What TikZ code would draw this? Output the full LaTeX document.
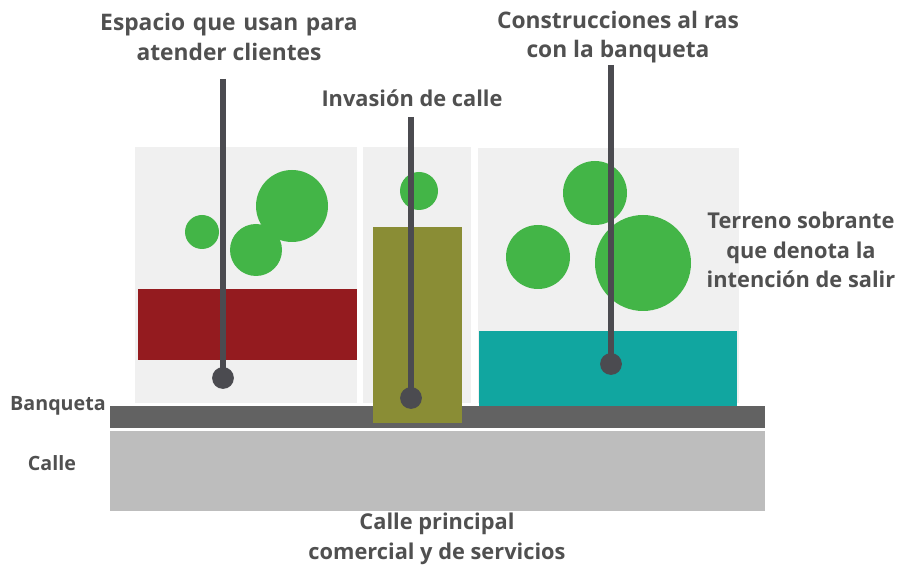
\documentclass[tikz,border=0pt]{standalone}
\usepackage{fontspec}
\setmainfont{Open Sans}
\usepackage{xcolor}
\definecolor{lotgray}{HTML}{F0F0F0}
\definecolor{shopred}{HTML}{941B1F}
\definecolor{stallolive}{HTML}{8A8D35}
\definecolor{builtteal}{HTML}{11A6A0}
\definecolor{treegreen}{HTML}{43B547}
\definecolor{walkgray}{HTML}{626262}
\definecolor{roadgray}{HTML}{BDBDBD}
\definecolor{leadergray}{HTML}{4B4B50}
\definecolor{labelgray}{HTML}{505050}

\begin{document}
\begin{tikzpicture}[x=0.025cm,y=-0.025cm,
    lot/.style={fill=lotgray},
    tree/.style={fill=treegreen},
    leader/.style={draw=leadergray,line width=4.3pt},
    pin/.style={circle,fill=leadergray,inner sep=0pt,minimum size=15.5pt},
    lbl/.style={text=labelgray,font=\bfseries\fontsize{15.5}{21}\selectfont,align=center,inner sep=0pt},
    toplbl/.style={lbl,font=\bfseries\fontsize{16.2}{21}\selectfont},
    sidelbl/.style={text=labelgray,font=\bfseries\fontsize{14}{15}\selectfont,inner sep=0pt}]
                \useasboundingbox (0,0) rectangle (903,570);

                % lots
                \fill[lot] (135,147) rectangle (357,403);
                \fill[lot] (363,147) rectangle (471,403);
                \fill[lot] (478,148) rectangle (739,403);

                % trees
                \fill[tree] (202,232) circle (17);
                \fill[tree] (292,206) circle (36);
                \fill[tree] (256,250) circle (26);
                \fill[tree] (419,191) circle (19);
                \fill[tree] (595,193) circle (32);
                \fill[tree] (538,257) circle (32);
                \fill[tree] (643,263) circle (48);

                % buildings
                \fill[shopred] (138,289) rectangle (357,360);
                \fill[builtteal] (479,331) rectangle (737,407);

                % street and sidewalk
                \fill[roadgray] (110,431) rectangle (765,511);
                \fill[walkgray] (110,406) rectangle (765,428);
                \fill[stallolive] (373,227) rectangle (462,423);

                % labels
                \node[toplbl] (espacio) at (229,37) {Espacio\,\,que\,\,usan\,\,para\\atender clientes};
                \node[toplbl] (construc) at (618,37) {Construcciones al ras\\con la banqueta};
                \node[lbl] (invasion) at (412,98) {Invasión de calle};
                \node[lbl] (terreno) at (801,250) {Terreno sobrante\\que denota la\\intención de salir};
                \node[sidelbl,anchor=east] (banqueta) at (106,406) {Banqueta};
                \node[sidelbl] (calle) at (52,463) {Calle};
                \node[lbl] (principal) at (437,539) {Calle principal\\comercial y de servicios};

                % leaders
                \coordinate (top1) at (223,79);
                \coordinate (top2) at (411,117);
                \coordinate (top3) at (611,65);
                \node[pin] (dot1) at (223,378) {};
                \node[pin] (dot2) at (411,398) {};
                \node[pin] (dot3) at (611,364) {};
                \draw[leader] (top1) -- (dot1.center);
                \draw[leader] (top2) -- (dot2.center);
                \draw[leader] (top3) -- (dot3.center);
            \end{tikzpicture}
\end{document}
